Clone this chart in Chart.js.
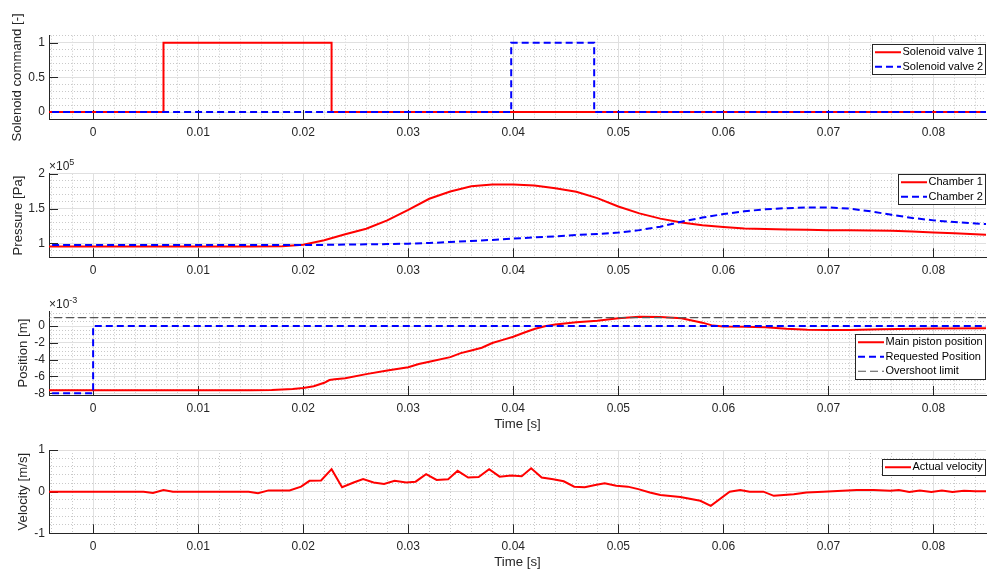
<!DOCTYPE html>
<html>
<head>
<meta charset="utf-8">
<script src="https://cdn.jsdelivr.net/npm/chart.js@4.4.0/dist/chart.umd.min.js"></script>
<style>
  html, body { margin: 0; padding: 0; background: #fff; }
  #wrap { position: relative; width: 987px; height: 572px; overflow: hidden; font-family: "Liberation Sans", Arial, sans-serif; }
  .panel { position: absolute; left: 0; width: 987px; }
  .expo { position: absolute; left: 49px; font-size: 12px; line-height: 12px; color: #262626; white-space: nowrap; }
  .expo span { position: relative; top: -5px; font-size: 9px; }
</style>
</head>
<body>
<div id="wrap">
  <div class="panel" style="top:0;height:145px"><canvas id="c1"></canvas></div>
  <div class="panel" style="top:145px;height:138px"><canvas id="c2"></canvas></div>
  <div class="panel" style="top:283px;height:150px"><canvas id="c3"></canvas></div>
  <div class="panel" style="top:433px;height:139px"><canvas id="c4"></canvas></div>
  <div class="expo" style="top:160px">&times;10<span>5</span></div>
  <div class="expo" style="top:298px">&times;10<span>-3</span></div>
</div>
<script>
// ---- data ----
const X_MIN = -0.0042, X_MAX = 0.085;

// solenoid commands (value changes at the listed time)
const valveTime1 = [-0.006, 0.0067, 0.0227, 0.09];
const valveCmd1 = [0, 1, 0, 0];
const valveTime2 = [-0.006, 0.0398, 0.0477, 0.09];
const valveCmd2 = [0, 1, 0, 0];

// chamber pressures [Pa]
const pressTime = [-0.006, 0, 0.005, 0.01, 0.015, 0.018, 0.02, 0.022, 0.024, 0.026, 0.028, 0.03, 0.032, 0.034, 0.036,
  0.038, 0.04, 0.042, 0.044, 0.046, 0.048, 0.05, 0.052, 0.054, 0.056, 0.058, 0.06, 0.062, 0.064, 0.066, 0.068,
  0.07, 0.072, 0.074, 0.076, 0.078, 0.08, 0.082, 0.084, 0.086];
const chamber1 = [95500, 95500, 95500, 95400, 95400, 95800, 98000, 104500, 113000, 121000, 133000, 148000, 164000, 174500, 182000,
  184500, 184500, 183000, 179000, 174000, 165000, 153000, 143000, 135500, 130000, 126000, 123600, 121500, 120500, 120000, 119500,
  119000, 118800, 118500, 118000, 117000, 115500, 114500, 113000, 112000];
const chamber2 = [97500, 97500, 97500, 97500, 97500, 97500, 97500, 97800, 98200, 98600, 99000, 99500, 100500, 102000, 103500,
  105000, 106800, 108500, 110000, 112000, 113500, 115500, 119000, 124000, 131000, 137000, 142000, 146000, 149000, 150500, 151500,
  151500, 150000, 146000, 141000, 136500, 133000, 130500, 128500, 127000];

// piston position [m]
const posTime = [-0.006, 0.015, 0.017, 0.019, 0.02, 0.021, 0.022, 0.0225, 0.023, 0.024, 0.026, 0.028, 0.03, 0.031, 0.032,
  0.034, 0.035, 0.036, 0.037, 0.038, 0.039, 0.04, 0.041, 0.042, 0.043, 0.044, 0.046, 0.048, 0.05, 0.052, 0.054,
  0.056, 0.058, 0.059, 0.06, 0.062, 0.064, 0.066, 0.068, 0.07, 0.072, 0.075, 0.08, 0.086];
const pistonPos = [-0.00762, -0.00764, -0.00762, -0.0075, -0.00736, -0.00715, -0.00675, -0.00642, -0.00633, -0.00622, -0.00572, -0.0053, -0.00491, -0.00452, -0.00425,
  -0.0037, -0.00322, -0.0029, -0.00258, -0.00202, -0.00165, -0.00127, -0.0008, -0.00035, -0.00002, 0.00018, 0.00044, 0.00062, 0.00091, 0.0011, 0.00107,
  0.00092, 0.0004, 0.00005, -0.00005, -0.00008, -0.00014, -0.00032, -0.00044, -0.00048, -0.00047, -0.00038, -0.00028, -0.00027];
const reqTime = [-0.006, 0, 0.09];
const reqPos = [-0.008, 0, 0];
const limitTime = [-0.006, 0.09];
const limitPos = [0.001, 0.001];

// velocity [m/s]
const velTime = [-0.006, 0.0048, 0.0057, 0.0067, 0.0076, 0.0148, 0.0157, 0.0167, 0.0187, 0.0198, 0.0206, 0.0217, 0.0227, 0.0237,
  0.0248, 0.0257, 0.0267, 0.0277, 0.0287, 0.0298, 0.0307, 0.0317, 0.0327, 0.0338, 0.0347, 0.0357, 0.0367, 0.0377, 0.0387,
  0.0398, 0.0408, 0.0417, 0.0427, 0.0438, 0.0448, 0.0458, 0.0468, 0.0478, 0.0487, 0.0498, 0.0509, 0.0519, 0.053, 0.054,
  0.0559, 0.0578, 0.0588, 0.0606, 0.0616, 0.0625, 0.0638, 0.0648, 0.0667, 0.0679, 0.0695, 0.0727, 0.0743, 0.0759, 0.0767,
  0.0777, 0.0787, 0.0798, 0.0808, 0.0818, 0.0829, 0.084, 0.086];
const velocity = [0, 0, -0.03, 0.04, 0, 0, -0.04, 0.03, 0.03, 0.12, 0.26, 0.27, 0.54, 0.105,
  0.22, 0.3, 0.22, 0.185, 0.26, 0.22, 0.24, 0.42, 0.28, 0.3, 0.5, 0.34, 0.35, 0.54, 0.36,
  0.39, 0.37, 0.56, 0.34, 0.3, 0.25, 0.12, 0.105, 0.16, 0.2, 0.14, 0.12, 0.06, -0.02, -0.08,
  -0.13, -0.22, -0.34, 0, 0.04, 0, 0, -0.1, -0.06, -0.02, 0, 0.04, 0.04, 0.02, 0.04,
  -0.01, 0.03, -0.01, 0.03, -0.01, 0.02, 0.01, 0.01];

// ---- helpers ----
const INK = '#262626';
Chart.defaults.font.family = '"Liberation Sans", Arial, Helvetica, sans-serif';

const pts = (t, v) => t.map((x, i) => ({ x: x, y: v[i] }));
const isMajor = (v, m) => Math.abs(v / m - Math.round(v / m)) < 1e-6;

function gridOpts(major) {
  return {
    drawTicks: false,
    lineWidth: 1,
    color: c => (c.tick && isMajor(c.tick.value, major)) ? '#e0e0e0' : '#c9c9c9'
  };
}
function borderOpts(major) {
  return {
    color: INK,
    width: 1,
    dash: c => (c.tick && isMajor(c.tick.value, major)) ? [] : [1, 2]
  };
}

function xAxis(height, title, titlePad) {
  return {
    type: 'linear',
    min: X_MIN,
    max: X_MAX,
    afterFit: s => { s.height = height; },
    ticks: {
      stepSize: 0.002, autoSkip: false, maxRotation: 0, minRotation: 0, includeBounds: false,
      padding: 6, color: INK, font: { size: 12 },
      callback: v => isMajor(v, 0.01) ? (Math.abs(v) < 1e-9 ? '0' : v.toFixed(2)) : ''
    },
    grid: gridOpts(0.01),
    border: borderOpts(0.01),
    title: { display: !!title, text: title || '', color: INK, font: { size: 13.2 }, padding: { top: 0, bottom: titlePad || 0 } }
  };
}

function yAxis(min, max, step, major, fmt, title, titlePad) {
  return {
    type: 'linear',
    min: min,
    max: max,
    afterFit: s => { s.width = 49; },
    ticks: {
      stepSize: step, autoSkip: false, includeBounds: false, padding: 4, color: INK, font: { size: 12 },
      callback: v => isMajor(v, major) ? fmt(v) : ''
    },
    grid: gridOpts(major),
    border: borderOpts(major),
    title: { display: true, text: title, color: INK, font: { size: 13.2 }, padding: { top: titlePad, bottom: 0 } }
  };
}

// inward tick marks at the labelled ticks
const inwardTicks = {
  id: 'inwardTicks',
  beforeDatasetsDraw(chart) {
    const { ctx, chartArea: a, scales } = chart;
    ctx.save();
    ctx.strokeStyle = INK;
    ctx.lineWidth = 1;
    ctx.beginPath();
    scales.x.ticks.forEach(t => {
      if (!t.label) return;
      const px = Math.round(scales.x.getPixelForValue(t.value)) + 0.5;
      ctx.moveTo(px, a.bottom);
      ctx.lineTo(px, a.bottom - 9);
    });
    scales.y.ticks.forEach(t => {
      if (!t.label) return;
      const py = Math.round(scales.y.getPixelForValue(t.value)) + 0.5;
      ctx.moveTo(a.left, py);
      ctx.lineTo(a.left + 9, py);
    });
    ctx.stroke();
    ctx.restore();
  }
};

// boxed legend in the upper right corner of the plot
const boxLegend = {
  id: 'boxLegend',
  afterDraw(chart, args, opts) {
    const { ctx, chartArea: a } = chart;
    const sets = chart.data.datasets;
    ctx.save();
    ctx.font = '11px "Liberation Sans", Arial, sans-serif';
    const textW = Math.max(...sets.map(d => ctx.measureText(d.label).width));
    const rowH = 14.5;
    const w = Math.round(31 + textW + 2.5);
    const h = Math.round(sets.length * rowH + 2);
    const x = Math.round(a.right - w);
    const y = Math.round(a.top + opts.top);
    ctx.fillStyle = '#fff';
    ctx.fillRect(x, y, w, h);
    ctx.strokeStyle = INK;
    ctx.lineWidth = 1;
    ctx.strokeRect(x + 0.5, y + 0.5, w - 1, h - 1);
    sets.forEach((d, i) => {
      const cy = y + 1 + rowH * (i + 0.5);
      ctx.beginPath();
      ctx.setLineDash(d.borderDash || []);
      ctx.strokeStyle = d.borderColor;
      ctx.lineWidth = d.borderWidth;
      ctx.moveTo(x + 3, cy);
      ctx.lineTo(x + 29, cy);
      ctx.stroke();
      ctx.setLineDash([]);
      ctx.fillStyle = '#000';
      ctx.textBaseline = 'middle';
      ctx.fillText(d.label, x + 30.5, cy);
    });
    ctx.restore();
  }
};

function line(label, t, v, color, dash, width, order, stepped) {
  return {
    label: label,
    data: pts(t, v),
    borderColor: color,
    borderDash: dash,
    borderWidth: width,
    pointRadius: 0,
    tension: 0,
    fill: false,
    stepped: stepped || false,
    order: order
  };
}

function makeChart(id, datasets, padTop, xCfg, yCfg, legendTop) {
  return new Chart(document.getElementById(id), {
    type: 'line',
    data: { datasets: datasets },
    options: {
      responsive: true,
      maintainAspectRatio: false,
      animation: false,
      events: [],
      layout: { padding: { top: padTop, right: 1, bottom: 0, left: 0 } },
      scales: { x: xCfg, y: yCfg },
      plugins: {
        legend: { display: false },
        tooltip: { enabled: false },
        boxLegend: { top: legendTop }
      }
    },
    plugins: [inwardTicks, boxLegend]
  });
}

const fmtDec = v => String(+v.toFixed(1));

makeChart('c1', [
  line('Solenoid valve 1', valveTime1, valveCmd1, '#ff0000', [], 2, 2, 'before'),
  line('Solenoid valve 2', valveTime2, valveCmd2, '#0000ff', [7, 4], 2, 1, 'before')
], 35.7, xAxis(26), yAxis(-0.1, 1.1, 0.1, 0.5, fmtDec, 'Solenoid command [-]', 9.4), 8.6);

makeChart('c2', [
  line('Chamber 1', pressTime, chamber1, '#ff0000', [], 2, 2),
  line('Chamber 2', pressTime, chamber2, '#0000ff', [7, 4], 2, 1)
], 28.7, xAxis(25.7), yAxis(80000, 200000, 10000, 50000, v => fmtDec(v / 1e5), 'Pressure [Pa]', 10.4), 0.5);

makeChart('c3', [
  line('Main piston position', posTime, pistonPos, '#ff0000', [], 2, 3),
  line('Requested Position', reqTime, reqPos, '#0000ff', [7, 4], 2, 2, 'before'),
  line('Overshoot limit', limitTime, limitPos, '#555555', [8, 4], 1.2, 1)
], 28.3, xAxis(38, 'Time [s]', 0.3), yAxis(-0.0082, 0.00175, 0.0005, 0.002, v => String(Math.round(v * 1000)), 'Position [m]', 15), 23);

makeChart('c4', [
  line('Actual velocity', velTime, velocity, '#ff0000', [], 2, 1)
], 17, xAxis(38.7, 'Time [s]', 2), yAxis(-1, 1, 0.2, 1, fmtDec, 'Velocity [m/s]', 15.5), 9);
</script>
</body>
</html>
